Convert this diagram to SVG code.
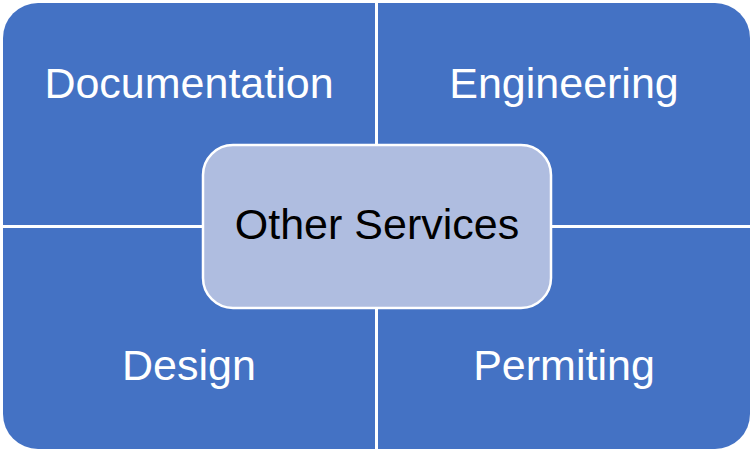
<svg xmlns="http://www.w3.org/2000/svg" width="753" height="453" viewBox="0 0 753 453">
<style>
.q{fill:#4472C4;}
.lbl{font-family:"Liberation Sans",Arial,sans-serif;font-size:43px;text-anchor:middle;}
.w{fill:#FFFFFF;}
.k{fill:#000000;}
.c{fill:#AFBDE0;stroke:#FFFFFF;stroke-width:2.5;}
</style>
<rect width="753" height="453" fill="#FFFFFF"/>
<g id="documentation">
<path class="q" d="M3,38 A35,35 0 0 1 38,3 L375,3 L375,225 L3,225 Z"/>
<text class="lbl w" x="189" y="98">Documentation</text>
</g>
<g id="engineering">
<path class="q" d="M378,3 L715,3 A35,35 0 0 1 750,38 L750,225 L378,225 Z"/>
<text class="lbl w" x="564" y="98">Engineering</text>
</g>
<g id="design">
<path class="q" d="M3,228 L375,228 L375,449 L38,449 A35,35 0 0 1 3,414 Z"/>
<text class="lbl w" x="189" y="380">Design</text>
</g>
<g id="permiting">
<path class="q" d="M378,228 L750,228 L750,414 A35,35 0 0 1 715,449 L378,449 Z"/>
<text class="lbl w" x="564" y="380">Permiting</text>
</g>
<g id="connectors"></g>
<g id="other-services">
<rect class="c" x="203" y="145" width="348" height="163" rx="30" ry="30"/>
<text class="lbl k" x="377" y="239">Other Services</text>
</g>
</svg>
